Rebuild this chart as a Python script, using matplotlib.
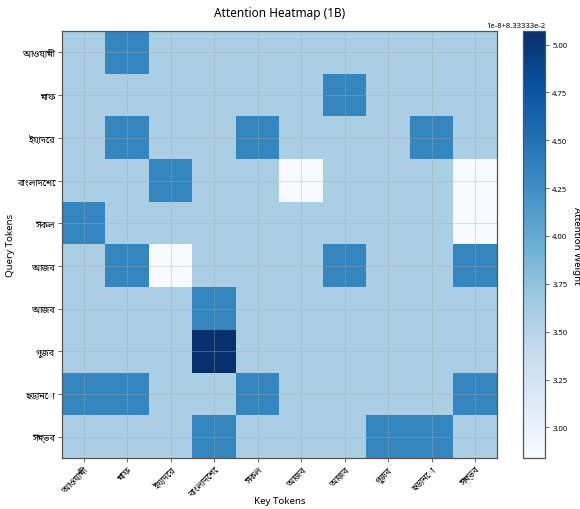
import numpy as np
import matplotlib
matplotlib.use('Agg')
import matplotlib.pyplot as plt

plt.rcParams['font.family'] = ['Noto Sans', 'Noto Sans Bengali', 'DejaVu Sans']
plt.rcParams['axes.unicode_minus'] = False

key_tokens = ['আওয়ামী', 'মাফ', 'ইয়াদের', 'বাংলাদেশে', 'সকল',
              'আজব', 'আজব', 'গুজব', 'ছড়ানো', 'সম্ভব']
query_tokens = ['আওয়ামী', 'মাফ', 'ইয়াদের', 'বাংলাদেশে', 'সকল',
                'আজব', 'আজব', 'গুজব', 'ছড়ানো', 'সম্ভব']

# attention weights (all close to 1/12)
w_lo = 0.0833333284
w_base = 0.0833333359
w_mid = 0.0833333433
w_hi = 0.0833333507
attention = np.array([
    [w_base, w_mid, w_base, w_base, w_base, w_base, w_base, w_base, w_base, w_base],
    [w_base, w_base, w_base, w_base, w_base, w_base, w_mid, w_base, w_base, w_base],
    [w_base, w_mid, w_base, w_base, w_mid, w_base, w_base, w_base, w_mid, w_base],
    [w_base, w_base, w_mid, w_base, w_base, w_lo, w_base, w_base, w_base, w_lo],
    [w_mid, w_base, w_base, w_base, w_base, w_base, w_base, w_base, w_base, w_lo],
    [w_base, w_mid, w_lo, w_base, w_base, w_base, w_mid, w_base, w_base, w_mid],
    [w_base, w_base, w_base, w_mid, w_base, w_base, w_base, w_base, w_base, w_base],
    [w_base, w_base, w_base, w_hi, w_base, w_base, w_base, w_base, w_base, w_base],
    [w_mid, w_mid, w_base, w_base, w_mid, w_base, w_base, w_base, w_base, w_mid],
    [w_base, w_base, w_base, w_mid, w_base, w_base, w_base, w_mid, w_mid, w_base],
])

fig = plt.figure(figsize=(5.8, 5.1), dpi=100)
ax = fig.add_axes([0.107, 0.100, 0.750, 0.837])
cax = fig.add_axes([0.902, 0.100, 0.038, 0.837])

im = ax.imshow(attention, cmap='Blues', aspect='auto', interpolation='nearest')
ax.set_xticks(range(len(key_tokens)))
ax.set_xticklabels(key_tokens, rotation=45, ha='right', rotation_mode='anchor', fontsize=6.5)
ax.set_yticks(range(len(query_tokens)))
ax.set_yticklabels(query_tokens, fontsize=6.5)
ax.tick_params(length=3, width=0.6, color='#555555', pad=2)
ax.grid(True, color='#aaaaaa', alpha=0.35, linewidth=0.8)
for s in ax.spines.values():
    s.set_color('#555555')
    s.set_linewidth(0.9)

ax.set_title('Attention Heatmap (1B)', fontsize=8.5, pad=11)
ax.set_xlabel('Key Tokens', fontsize=7)
ax.set_ylabel('Query Tokens', fontsize=7)
ax.xaxis.set_label_coords(0.5, -0.088)
ax.yaxis.set_label_coords(-0.108, 0.5)

cb = fig.colorbar(im, cax=cax)
cb.set_label('Attention Weight', rotation=270, fontsize=7, va='center')
cb.ax.yaxis.set_label_coords(2.4, 0.5)
cb.ax.tick_params(labelsize=5.5, length=3, width=0.6, color='#555555', pad=2)
cb.ax.yaxis.get_offset_text().set_fontsize(5.5)
cb.outline.set_edgecolor('#555555')
cb.outline.set_linewidth(0.9)

fig.savefig('out.png', dpi=100)
